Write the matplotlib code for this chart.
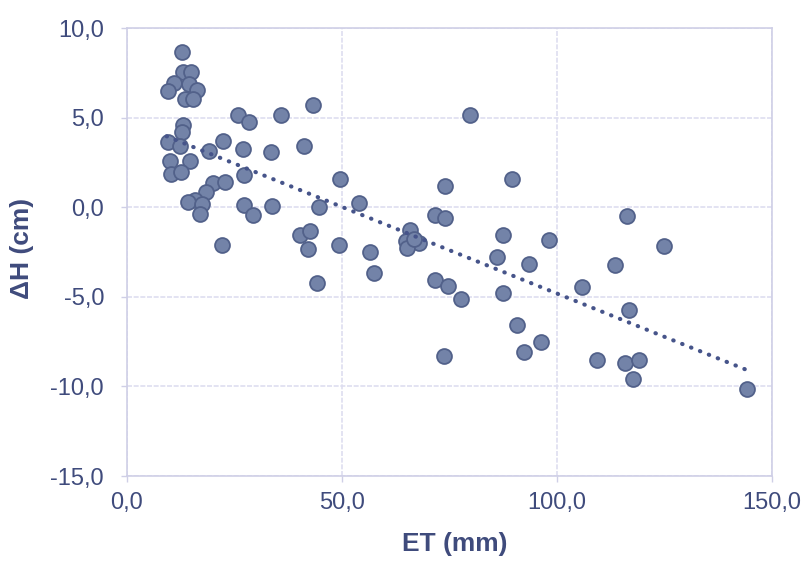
import matplotlib
matplotlib.use("Agg")
import matplotlib.pyplot as plt
from matplotlib.ticker import FuncFormatter

et = [12.9, 13.0, 14.8, 10.9, 9.6, 14.5, 16.2, 13.6, 15.4, 13.1, 12.7, 9.5, 12.4, 10.1,
      14.7, 10.2, 12.6, 19.0, 22.4, 25.9, 28.3, 26.9, 27.3, 33.4, 35.9, 41.2, 43.2, 20.0,
      22.7, 18.4, 15.9, 14.1, 17.4, 17.0, 27.2, 29.3, 33.7, 44.7, 40.3, 42.5, 22.1, 49.6,
      54.0, 42.2, 49.2, 56.6, 57.4, 44.2, 79.7, 73.9, 71.6, 73.9, 65.8, 64.8, 67.9, 65.2,
      66.8, 71.6, 74.6, 77.7, 73.7, 89.6, 87.5, 86.0, 87.5, 90.8, 92.3, 93.5, 98.1, 96.2,
      105.8, 116.2, 124.9, 113.5, 116.8, 109.2, 115.8, 119.1, 117.7, 144.1]
dh = [8.67, 7.55, 7.55, 6.94, 6.47, 6.90, 6.56, 6.06, 6.06, 4.59, 4.18, 3.62, 3.40, 2.56,
      2.56, 1.87, 1.94, 3.12, 3.72, 5.13, 4.76, 3.27, 1.82, 3.06, 5.17, 3.40, 5.73, 1.35,
      1.41, 0.85, 0.42, 0.29, 0.20, -0.36, 0.10, -0.46, 0.08, 0.01, -1.54, -1.35, -2.10, 1.59,
      0.23, -2.32, -2.13, -2.52, -3.68, -4.24, 5.17, 1.20, -0.42, -0.60, -1.26, -1.91, -2.00, -2.28,
      -1.75, -4.05, -4.42, -5.11, -8.30, 1.59, -1.57, -2.78, -4.79, -6.60, -8.06, -3.16, -1.82, -7.50,
      -4.48, -0.47, -2.19, -3.25, -5.76, -8.52, -8.67, -8.52, -9.58, -10.16]

trend_x = [9.2, 144.1]
trend_y = [3.96, -9.08]

x_ticks = [0, 50, 100, 150]
y_ticks = [-15, -10, -5, 0, 5, 10]

txt = "#3f4b7c"
grid_c = "#dedef0"
fam = ['Liberation Sans', 'DejaVu Sans']
plt.rcParams['font.family'] = fam

fig = plt.figure(figsize=(8.04, 5.63), dpi=100)
ax = fig.add_axes([127/804, 1-476/563, (772-127)/804, (476-28)/563])

ax.set_xlim(0, 150)
ax.set_ylim(-15, 10)
ax.set_xticks(x_ticks)
ax.set_yticks(y_ticks)
fmt = FuncFormatter(lambda v, p: f"{v:.1f}".replace(".", ","))
ax.xaxis.set_major_formatter(fmt)
ax.yaxis.set_major_formatter(fmt)

ax.grid(True, color=grid_c, linewidth=1.2, linestyle=(0, (3, 1)), zorder=0)
for s in ax.spines.values():
    s.set_color("#cfcfe6")
    s.set_linewidth(1.2)

ax.tick_params(axis='both', colors="#cfcfe6", length=4.5, width=1.0,
               labelcolor=txt, labelsize=17)
ax.tick_params(axis='x', pad=7)
ax.tick_params(axis='y', pad=12)

ax.scatter(et, dh, s=115, c="#7383a8", edgecolors="#52618a", linewidths=1.3, zorder=3)
ax.plot(trend_x, trend_y, linestyle=(0, (0.1, 2.2)), color="#46548a", linewidth=3.0,
        dash_capstyle='round', zorder=4)

ax.set_xlabel("ET (mm)", fontsize=19, fontweight='bold', color=txt)
ax.set_ylabel("ΔH (cm)", fontsize=19, fontweight='bold', color=txt)
ax.xaxis.set_label_coords((455 - 127) / (772 - 127), (476 - 544) / (476 - 28))
ax.yaxis.set_label_coords((22 - 127) / (772 - 127), (476 - 248) / (476 - 28))
ax.xaxis.label.set_va('center')
ax.yaxis.label.set_va('center')

fig.savefig("out.png", dpi=100, facecolor="white")
